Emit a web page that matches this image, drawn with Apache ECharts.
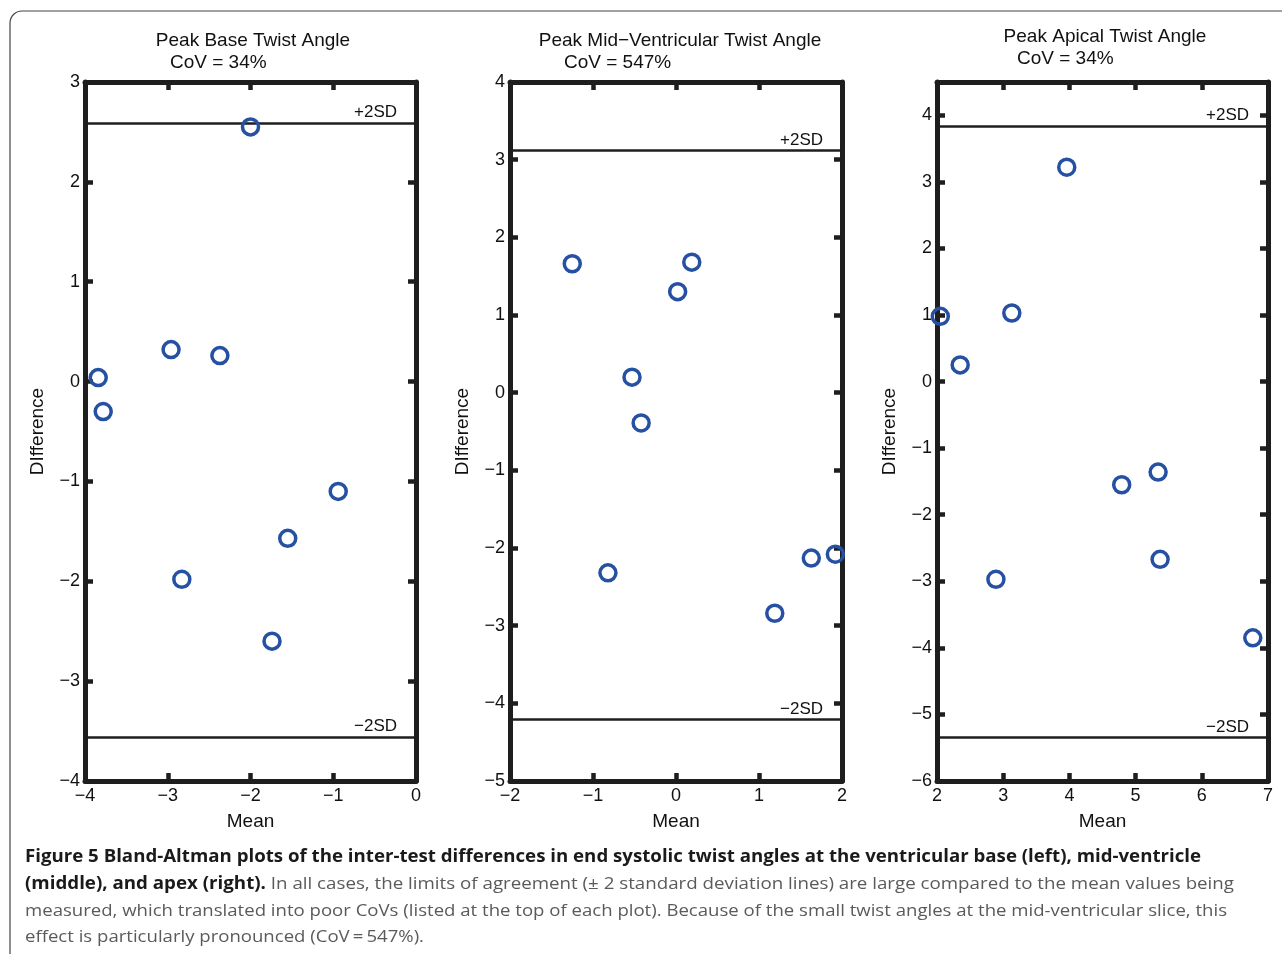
<!DOCTYPE html>
<html>
<head>
<meta charset="utf-8">
<script src="https://cdn.jsdelivr.net/npm/echarts@6/dist/echarts.min.js"></script>
<style>
html,body{margin:0;padding:0;background:#fff;}
#chart{width:1282px;height:954px;}
</style>
</head>
<body>
<div id="chart"></div>
<script>
// ---- data ----
var titles = ['Peak Base Twist Angle', 'Peak Mid\u2212Ventricular Twist Angle', 'Peak Apical Twist Angle'];
var covs = ['CoV = 34%', 'CoV = 547%', 'CoV = 34%'];
var baseMean = [-2.0, -3.84, -3.78, -2.96, -2.37, -0.94, -1.55, -2.83, -1.74];
var baseDiff = [2.55, 0.04, -0.30, 0.32, 0.26, -1.10, -1.57, -1.98, -2.60];
var baseSD = [2.59, -3.56];
var midMean = [-1.25, 0.19, 0.02, -0.53, -0.42, -0.82, 1.19, 1.63, 1.92];
var midDiff = [1.66, 1.68, 1.30, 0.20, -0.39, -2.32, -2.84, -2.13, -2.08];
var midSD = [3.12, -4.21];
var apexMean = [2.05, 2.35, 3.13, 3.96, 2.89, 4.79, 5.34, 5.37, 6.77];
var apexDiff = [0.98, 0.25, 1.03, 3.22, -2.97, -1.55, -1.36, -2.67, -3.85];
var apexSD = [3.84, -5.35];
var xRanges = [[-4, 0], [-2, 2], [2, 7]];
var yRanges = [[-4, 3], [-5, 4], [-6, 4.5]];
var sdLabels = ['+2SD', '\u22122SD'];
var captionBold1 = 'Figure 5 Bland-Altman plots of the inter-test differences in end systolic twist angles at the ventricular base (left), mid-ventricle';
var captionBold2 = '(middle), and apex (right).';
var captionReg2 = ' In all cases, the limits of agreement (\u00b1 2 standard deviation lines) are large compared to the mean values being';
var captionReg3 = 'measured, which translated into poor CoVs (listed at the top of each plot). Because of the small twist angles at the mid-ventricular slice, this';
var captionReg4 = 'effect is particularly pronounced (CoV\u2009=\u2009547%).';

var means = [baseMean, midMean, apexMean];
var diffs = [baseDiff, midDiff, apexDiff];
var sds = [baseSD, midSD, apexSD];

// ---- layout ----
var gridLefts = [85, 510, 937];
var gridWidths = [331, 332, 331];
var FONT = '"Liberation Sans", Arial, sans-serif';
var AX = '#1e1e1e';

function fmt(v) {
  if (Math.abs(v - Math.round(v)) > 1e-9) return '';
  return String(v).replace('-', '\u2212');
}

var grids = [], xAxes = [], yAxes = [], series = [];
for (var i = 0; i < 3; i++) {
  grids.push({left: gridLefts[i], top: 82, width: gridWidths[i], height: 699, containLabel: false});
  var axLine = {show: true, onZero: false, lineStyle: {color: AX, width: 5}};
  var tick = {show: true, inside: true, length: 8, lineStyle: {color: AX, width: 4.5}};
  // bottom x
  xAxes.push({type: 'value', gridIndex: i, position: 'bottom', min: xRanges[i][0], max: xRanges[i][1], interval: 1,
    axisLine: axLine, axisTick: tick, splitLine: {show: false},
    axisLabel: {formatter: fmt, color: '#111', fontFamily: FONT, fontSize: 18, margin: 6},
    name: 'Mean', nameLocation: 'middle', nameGap: 31,
    nameTextStyle: {color: '#111', fontFamily: FONT, fontSize: 19}});
  // top x
  xAxes.push({type: 'value', gridIndex: i, position: 'top', min: xRanges[i][0], max: xRanges[i][1], interval: 1,
    axisLine: axLine, axisTick: tick, splitLine: {show: false}, axisLabel: {show: false}});
  // left y
  yAxes.push({type: 'value', gridIndex: i, position: 'left', min: yRanges[i][0], max: yRanges[i][1], interval: 1,
    axisLine: axLine, axisTick: tick, splitLine: {show: false},
    axisLabel: {formatter: fmt, color: '#111', fontFamily: FONT, fontSize: 18, margin: 5, showMaxLabel: i !== 2},
    name: 'DIfference', nameLocation: 'middle', nameGap: 38, nameRotate: 90,
    nameTextStyle: {color: '#111', fontFamily: FONT, fontSize: 19}});
  // right y
  yAxes.push({type: 'value', gridIndex: i, position: 'right', min: yRanges[i][0], max: yRanges[i][1], interval: 1,
    axisLine: axLine, axisTick: tick, splitLine: {show: false}, axisLabel: {show: false}});

  var pts = means[i].map(function (m, k) { return [m, diffs[i][k]]; });
  series.push({
    type: 'scatter', xAxisIndex: i * 2, yAxisIndex: i * 2, data: pts, clip: false,
    symbol: 'circle', symbolSize: 16,
    itemStyle: {color: 'rgba(255,255,255,0)', borderColor: '#2650a2', borderWidth: 3.5, opacity: 1},
    z: 5,
    markLine: {
      silent: true, symbol: 'none', animation: false,
      lineStyle: {color: AX, width: 2.5, type: 'solid'},
      label: {show: true, position: 'insideEndTop', color: '#111', fontFamily: FONT, fontSize: 17,
        padding: [0, 17, 0, 0], distance: 2},
      data: [
        {yAxis: sds[i][0], label: {formatter: sdLabels[0]}},
        {yAxis: sds[i][1], label: {formatter: sdLabels[1]}}
      ]
    }
  });
}

// ---- caption sizing via canvas measure ----
var ctx = document.createElement('canvas').getContext('2d');
var CAPF = '"Open Sans", "Noto Sans", sans-serif';
function w(text, bold) {
  ctx.font = (bold ? 'bold ' : '') + '17px ' + CAPF;
  return ctx.measureText(text).width;
}
var capX = 25;
var l1 = w(captionBold1, true);
var l2 = w(captionBold2, true) + w(captionReg2, false);
var l3 = w(captionReg3, false);
var l4 = w(captionReg4, false);
var sc1 = (1201 - capX) / l1, sc2 = (1234 - capX) / l2, sc3 = (1227 - capX) / l3, sc4 = (424 - capX) / l4;

var rich = {
  b: {fontFamily: CAPF, fontWeight: 'bold', fontSize: 17, fill: '#1a1a1a'},
  r: {fontFamily: CAPF, fontWeight: 'normal', fontSize: 17, fill: '#5a5a5a'}
};

var titleStyle = {fontFamily: FONT, fontSize: 19, fill: '#111'};
var graphic = [
  {type: 'rect', shape: {x: 10, y: 11, width: 1320, height: 1000, r: 12}, style: {fill: 'none', stroke: '#444', lineWidth: 1.2}, silent: true}
];
var titleCx = [253, 680, 1105];
var titleY = [41, 41, 37];
var covX = [170, 564, 1017];
for (var j = 0; j < 3; j++) {
  graphic.push({type: 'text', x: titleCx[j], y: titleY[j], style: Object.assign({text: titles[j], textAlign: 'center', textVerticalAlign: 'middle'}, titleStyle)});
  graphic.push({type: 'text', x: covX[j], y: titleY[j] + 22, style: Object.assign({text: covs[j], textAlign: 'left', textVerticalAlign: 'middle'}, titleStyle)});
}
graphic.push({type: 'text', x: capX, y: 857, scaleX: sc1, style: {text: '{b|' + captionBold1 + '}', rich: rich, textVerticalAlign: 'middle'}});
graphic.push({type: 'text', x: capX, y: 884, scaleX: sc2, style: {text: '{b|' + captionBold2 + '}{r|' + captionReg2 + '}', rich: rich, textVerticalAlign: 'middle'}});
graphic.push({type: 'text', x: capX, y: 911, scaleX: sc3, style: {text: '{r|' + captionReg3 + '}', rich: rich, textVerticalAlign: 'middle'}});
graphic.push({type: 'text', x: capX, y: 937, scaleX: sc4, style: {text: '{r|' + captionReg4 + '}', rich: rich, textVerticalAlign: 'middle'}});

var chart = echarts.init(document.getElementById('chart'), null, {renderer: 'canvas'});
chart.setOption({
  backgroundColor: '#fff',
  animation: false,
  grid: grids, xAxis: xAxes, yAxis: yAxes, series: series,
  graphic: graphic
});
</script>
</body>
</html>
